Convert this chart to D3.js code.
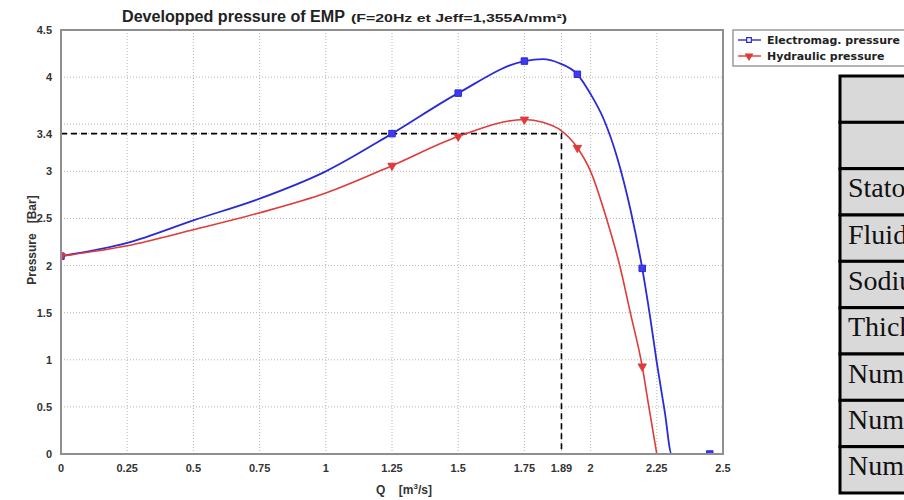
<!DOCTYPE html>
<html>
<head>
<meta charset="utf-8">
<script src="https://cdn.jsdelivr.net/npm/d3@7"></script>
<style>
    body { margin: 0; background: #fff; }
    svg { display: block; }
    .tick-label { font-family: "Liberation Sans", Arial, sans-serif; font-size: 11px; font-weight: bold; fill: #333; }
    .axis-title { font-family: "Liberation Sans", Arial, sans-serif; font-size: 12px; font-weight: bold; fill: #333; white-space: pre; }
    .legend-text { font-family: "DejaVu Sans", sans-serif; font-size: 11px; font-weight: bold; fill: #222; }
    .table-text { font-family: "Liberation Serif", "Times New Roman", serif; font-size: 28px; fill: #111; }
</style>
</head>
<body>
<svg id="chart" width="904" height="500"></svg>
<script>
// x ticks (flow rate Q, m3/s)
const xTicks = [0, 0.25, 0.5, 0.75, 1, 1.25, 1.5, 1.75, 1.89, 2, 2.25, 2.5];
const xTickLabels = ["0", "0.25", "0.5", "0.75", "1", "1.25", "1.5", "1.75", "1.89", "2", "2.25", "2.5"];

// y ticks (pressure, bar)
const yTicks = [0, 0.5, 1, 1.5, 2, 2.5, 3, 3.4, 3.5, 4, 4.5];
const yTickLabels = ["0", "0.5", "1", "1.5", "2", "2.5", "3", "3.4", "", "4", "4.5"];

// electromagnetic pressure curve
const elecQ = [0, 0.25, 0.5, 0.75, 1.0, 1.25, 1.5, 1.75, 1.82, 1.88, 1.95, 2.0, 2.05, 2.1, 2.15, 2.195, 2.225, 2.25, 2.28, 2.306, 2.45];
const elecP = [2.10, 2.24, 2.48, 2.71, 3.0, 3.40, 3.83, 4.17, 4.19, 4.15, 4.03, 3.82, 3.55, 3.15, 2.6, 1.97, 1.45, 0.97, 0.45, 0, 0];
const elecMarkQ = [0, 1.25, 1.5, 1.75, 1.95, 2.195, 2.45];
const elecMarkP = [2.10, 3.40, 3.83, 4.17, 4.03, 1.97, 0];

// hydraulic pressure curve
const hydroQ = [0, 0.25, 0.5, 0.75, 1.0, 1.25, 1.5, 1.75, 1.82, 1.88, 1.95, 2.0, 2.06, 2.11, 2.15, 2.195, 2.22, 2.25];
const hydroP = [2.10, 2.21, 2.38, 2.56, 2.77, 3.06, 3.37, 3.55, 3.52, 3.45, 3.25, 3.0, 2.5, 2.0, 1.5, 0.93, 0.5, 0];
const hydroMarkQ = [0, 1.25, 1.5, 1.75, 1.95, 2.195];
const hydroMarkP = [2.10, 3.06, 3.37, 3.55, 3.25, 0.93];

// operating point
const opQ = 1.89;
const opP = 3.4;

const legendLabels = ["Electromag. pressure", "Hydraulic pressure"];
const tableRows = ["", "", "Stator", "Fluid", "Sodium", "Thickness", "Number", "Number", "Number"];

const blue = "#2a2ad6";
const red = "#e03a3a";

const svg = d3.select("#chart");
const plot = { left: 61, right: 723, top: 30, bottom: 454 };

const x = d3.scaleLinear().domain([0, 2.5]).range([plot.left, plot.right]);
const y = d3.scaleLinear().domain([0, 4.5]).range([plot.bottom, plot.top]);

svg.append("rect").attr("width", 904).attr("height", 500).attr("fill", "#fff");

svg.append("defs").append("clipPath")
    .attr("id", "plot-clip")
    .append("rect")
    .attr("x", plot.left)
    .attr("y", plot.top)
    .attr("width", plot.right - plot.left)
    .attr("height", plot.bottom - plot.top);

drawGrid();
drawCurves();
drawFrame();
drawTitle();
drawLegend();
drawTable();

function drawGrid() {
    const grid = svg.append("g").attr("class", "grid");

    grid.selectAll(".vgrid")
        .data(xTicks.slice(1, -1))
        .enter()
        .append("line")
        .attr("x1", function(d) { return x(d); })
        .attr("x2", function(d) { return x(d); })
        .attr("y1", plot.top)
        .attr("y2", plot.bottom)
        .attr("stroke", "#b5b5b5")
        .attr("stroke-width", 1)
        .attr("stroke-dasharray", "1,2");

    grid.selectAll(".hgrid")
        .data(yTicks.slice(1, -1))
        .enter()
        .append("line")
        .attr("x1", plot.left)
        .attr("x2", plot.right)
        .attr("y1", function(d) { return y(d); })
        .attr("y2", function(d) { return y(d); })
        .attr("stroke", "#b5b5b5")
        .attr("stroke-width", 1)
        .attr("stroke-dasharray", "1,2");

    // dashed operating point guide
    svg.append("path")
        .attr("d", "M" + x(0) + "," + y(opP) + "H" + x(opQ) + "V" + y(0))
        .attr("fill", "none")
        .attr("stroke", "#000")
        .attr("stroke-width", 1.6)
        .attr("stroke-dasharray", "6,4");
}

function drawCurves() {
    const layer = svg.append("g").attr("clip-path", "url(#plot-clip)");

    const line = d3.line()
        .x(function(d) { return x(d[0]); })
        .y(function(d) { return y(d[1]); })
        .curve(d3.curveMonotoneX);

    const elec = d3.zip(elecQ, elecP);
    const hydro = d3.zip(hydroQ, hydroP);

    layer.append("path")
        .datum(elec)
        .attr("d", line)
        .attr("fill", "none")
        .attr("stroke", blue)
        .attr("stroke-width", 1.8);

    layer.append("path")
        .datum(hydro)
        .attr("d", line)
        .attr("fill", "none")
        .attr("stroke", red)
        .attr("stroke-width", 1.6);

    layer.selectAll(".elec-mark")
        .data(d3.zip(elecMarkQ, elecMarkP))
        .enter()
        .append("path")
        .attr("d", d3.symbol(d3.symbolSquare, 42))
        .attr("transform", function(d) { return "translate(" + x(d[0]) + "," + y(d[1]) + ")"; })
        .attr("fill", "#3b3bf0")
        .attr("stroke", blue)
        .attr("stroke-width", 1);

    layer.selectAll(".hydro-mark")
        .data(d3.zip(hydroMarkQ, hydroMarkP))
        .enter()
        .append("path")
        .attr("d", d3.symbol(d3.symbolTriangle, 30))
        .attr("transform", function(d) { return "translate(" + x(d[0]) + "," + y(d[1]) + ") rotate(180)"; })
        .attr("fill", red)
        .attr("stroke", red)
        .attr("stroke-width", 1);
}

function drawFrame() {
    svg.append("rect")
        .attr("x", plot.left)
        .attr("y", plot.top)
        .attr("width", plot.right - plot.left)
        .attr("height", plot.bottom - plot.top)
        .attr("fill", "none")
        .attr("stroke", "#8f8f8f")
        .attr("stroke-width", 2);

    svg.selectAll(".x-label")
        .data(xTicks)
        .enter()
        .append("text")
        .attr("class", "tick-label")
        .attr("x", function(d) { return x(d); })
        .attr("y", 472)
        .attr("text-anchor", "middle")
        .text(function(d, i) { return xTickLabels[i]; });

    svg.selectAll(".y-label")
        .data(yTicks)
        .enter()
        .append("text")
        .attr("class", "tick-label")
        .attr("x", 52)
        .attr("y", function(d) { return y(d) + 4; })
        .attr("text-anchor", "end")
        .text(function(d, i) { return yTickLabels[i]; });

    svg.append("text")
        .attr("class", "axis-title")
        .attr("transform", "translate(36," + 240 + ") rotate(-90)")
        .attr("text-anchor", "middle")
        .text("Pressure   [Bar]");

    const xLabel = svg.append("text")
        .attr("class", "axis-title")
        .attr("x", 404)
        .attr("y", 494)
        .attr("text-anchor", "middle");
    xLabel.append("tspan").text("Q    [m");
    xLabel.append("tspan").attr("font-size", "8px").attr("dy", -5).text("3");
    xLabel.append("tspan").attr("dy", 5).text("/s]");
}

function drawTitle() {
    const title = svg.append("text")
        .attr("x", 122)
        .attr("y", 22)
        .attr("font-family", "Liberation Sans, Arial, sans-serif")
        .attr("fill", "#222");

    title.append("tspan")
        .attr("font-size", "16px")
        .attr("font-weight", "bold")
        .attr("textLength", 223)
        .attr("lengthAdjust", "spacingAndGlyphs")
        .text("Developped pressure of EMP");

    title.append("tspan")
        .attr("font-size", "10.5px")
        .attr("font-weight", "bold")
        .attr("dx", 6)
        .attr("textLength", 216)
        .attr("lengthAdjust", "spacingAndGlyphs")
        .text("(F=20Hz et Jeff=1,355A/mm²)");
}

function drawLegend() {
    const legend = svg.append("g").attr("transform", "translate(733,30)");

    legend.append("rect")
        .attr("x", 0)
        .attr("y", 0)
        .attr("width", 190)
        .attr("height", 36)
        .attr("fill", "#fff")
        .attr("stroke", "#9a9a9a")
        .attr("stroke-width", 1.5);

    const colors = [blue, red];

    legendLabels.forEach(function(label, i) {
        const cy = 10 + i * 16;
        const item = legend.append("g");

        item.append("line")
            .attr("x1", 5)
            .attr("x2", 28)
            .attr("y1", cy)
            .attr("y2", cy)
            .attr("stroke", colors[i])
            .attr("stroke-width", 1.4);

        item.append("path")
            .attr("d", i === 0 ? d3.symbol(d3.symbolSquare, 22) : d3.symbol(d3.symbolTriangle, 20))
            .attr("transform", "translate(16," + cy + ")" + (i === 1 ? " rotate(180)" : ""))
            .attr("fill", i === 0 ? "#fff" : colors[i])
            .attr("stroke", colors[i])
            .attr("stroke-width", 1.2);

        item.append("text")
            .attr("class", "legend-text")
            .attr("x", 34)
            .attr("y", cy + 4)
            .text(label);
    });
}

function drawTable() {
    const top = 76;
    const bottom = 493;
    const rowHeight = (bottom - top) / tableRows.length;
    const table = svg.append("g");

    const rows = table.selectAll(".row")
        .data(tableRows)
        .enter()
        .append("g")
        .attr("transform", function(d, i) { return "translate(840," + (top + i * rowHeight) + ")"; });

    rows.append("rect")
        .attr("width", 120)
        .attr("height", rowHeight)
        .attr("fill", "#d9d9d9")
        .attr("stroke", "#000")
        .attr("stroke-width", 3);

    rows.append("text")
        .attr("class", "table-text")
        .attr("x", 8)
        .attr("y", rowHeight * 0.62)
        .text(function(d) { return d; });
}
</script>
</body>
</html>
